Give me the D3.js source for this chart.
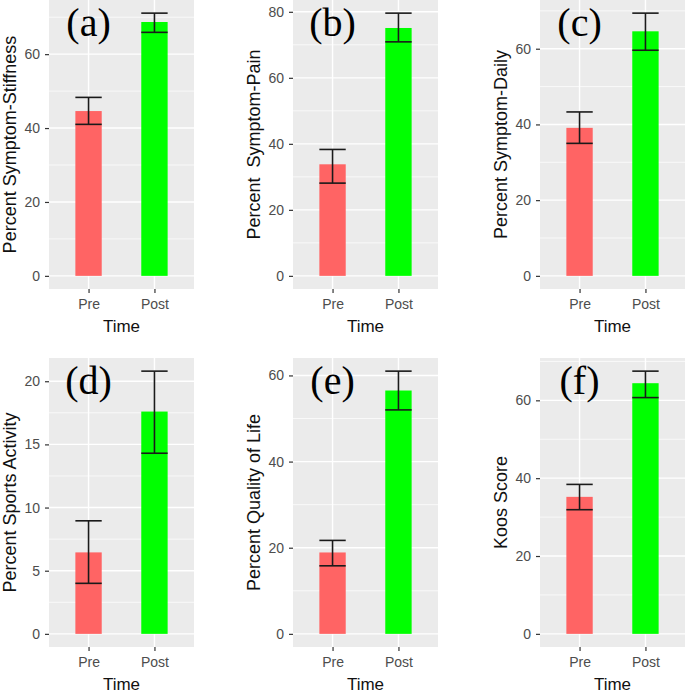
<!DOCTYPE html>
<html>
<head>
<meta charset="utf-8">
<script src="https://cdn.jsdelivr.net/npm/d3@7"></script>
<style>
  body { margin: 0; background: #fff; }
  svg { display: block; }
</style>
</head>
<body>
<div id="chart"></div>
<script>
const width = 685, height = 693;

// data
const panelLabels = ["(a)", "(b)", "(c)", "(d)", "(e)", "(f)"];
const yTitles = ["Percent Symptom-Stiffness", "Percent  Symptom-Pain", "Percent Symptom-Daily",
    "Percent Sports Activity", "Percent Quality of Life", "Koos Score"];
const groups = ["Pre", "Post"];
const preMeans = [44.6, 33.8, 39.1, 6.45, 18.9, 35.2];
const preLow = [41.0, 28.1, 35.0, 4.0, 15.8, 31.9];
const preHigh = [48.3, 38.3, 43.3, 8.95, 21.7, 38.4];
const postMeans = [68.7, 75.1, 64.6, 17.6, 56.5, 64.4];
const postLow = [65.9, 70.9, 59.6, 14.3, 52.0, 60.7];
const postHigh = [71.1, 79.6, 69.4, 20.8, 61.0, 67.5];
const yTicks = [
    [0, 20, 40, 60],
    [0, 20, 40, 60, 80],
    [0, 20, 40, 60],
    [0, 5, 10, 15, 20],
    [0, 20, 40, 60],
    [0, 20, 40, 60]
];

const barColors = { Pre: "#ff6464", Post: "#00ff00" };

// panel layout: plot-area boxes
const colLeft = [49, 293, 540];
const plotW = 145;
const rowTop = [0, 358];
const plotH = 289;

const svg = d3.select("#chart").append("svg")
    .attr("width", width)
    .attr("height", height)
    .style("font-family", "'Liberation Sans', Arial, sans-serif");

panelLabels.forEach(function (lab, i) {
    const col = i % 3, row = Math.floor(i / 3);
    const x0 = colLeft[col], y0 = rowTop[row];

    const rows = groups.map(function (g) {
        return g === "Pre"
            ? { group: g, mean: preMeans[i], lo: preLow[i], hi: preHigh[i] }
            : { group: g, mean: postMeans[i], lo: postLow[i], hi: postHigh[i] };
    });

    const maxV = d3.max(rows, d => d.hi);
    const yScale = d3.scaleLinear()
        .domain([-0.05 * maxV, 1.05 * maxV])
        .range([plotH, 0]);

    // discrete scale with ggplot-style 0.6 expansion
    const step = plotW / 2.2;
    const xScale = d3.scalePoint()
        .domain(groups)
        .range([0.6 * step, plotW - 0.6 * step]);
    const barW = 0.4 * step;

    const g = svg.append("g").attr("transform", "translate(" + x0 + "," + y0 + ")");

    g.append("rect")
        .attr("width", plotW)
        .attr("height", plotH)
        .attr("fill", "#ebebeb");

    // minor gridlines
    const ticks = yTicks[i];
    const tstep = ticks[1] - ticks[0];
    const minor = [];
    for (let v = ticks[0] - tstep / 2; v <= ticks[ticks.length - 1] + tstep; v += tstep) {
        if (v >= yScale.domain()[0] && v <= yScale.domain()[1]) minor.push(v);
    }
    g.selectAll(".minor").data(minor).enter().append("line")
        .attr("x1", 0).attr("x2", plotW)
        .attr("y1", d => yScale(d)).attr("y2", d => yScale(d))
        .attr("stroke", "#fff").attr("stroke-width", 0.7);

    g.selectAll(".major").data(ticks).enter().append("line")
        .attr("x1", 0).attr("x2", plotW)
        .attr("y1", d => yScale(d)).attr("y2", d => yScale(d))
        .attr("stroke", "#fff").attr("stroke-width", 1.4);

    g.selectAll(".vmajor").data(groups).enter().append("line")
        .attr("x1", d => xScale(d)).attr("x2", d => xScale(d))
        .attr("y1", 0).attr("y2", plotH)
        .attr("stroke", "#fff").attr("stroke-width", 1.4);

    // bars
    g.selectAll(".bar").data(rows).enter().append("rect")
        .attr("x", d => xScale(d.group) - barW / 2)
        .attr("y", d => yScale(d.mean))
        .attr("width", barW)
        .attr("height", d => yScale(0) - yScale(d.mean))
        .attr("fill", d => barColors[d.group]);

    // error bars
    const eb = g.selectAll(".err").data(rows).enter().append("g")
        .attr("stroke", "#1a1a1a").attr("stroke-width", 1.6);
    eb.append("line")
        .attr("x1", d => xScale(d.group)).attr("x2", d => xScale(d.group))
        .attr("y1", d => yScale(d.lo)).attr("y2", d => yScale(d.hi));
    eb.append("line")
        .attr("x1", d => xScale(d.group) - barW / 2).attr("x2", d => xScale(d.group) + barW / 2)
        .attr("y1", d => yScale(d.hi)).attr("y2", d => yScale(d.hi));
    eb.append("line")
        .attr("x1", d => xScale(d.group) - barW / 2).attr("x2", d => xScale(d.group) + barW / 2)
        .attr("y1", d => yScale(d.lo)).attr("y2", d => yScale(d.lo));

    // axes
    const yAxis = d3.axisLeft(yScale).tickValues(ticks).tickSize(4).tickPadding(5);
    const ya = g.append("g").call(yAxis);
    ya.select(".domain").remove();
    ya.selectAll(".tick line").attr("stroke", "#333").attr("stroke-width", 1.2);
    ya.selectAll(".tick text").attr("fill", "#4d4d4d").style("font-size", "14px");

    const xAxis = d3.axisBottom(xScale).tickSize(4).tickPadding(6);
    const xa = g.append("g").attr("transform", "translate(0," + plotH + ")").call(xAxis);
    xa.select(".domain").remove();
    xa.selectAll(".tick line").attr("stroke", "#333").attr("stroke-width", 1.2);
    xa.selectAll(".tick text").attr("fill", "#4d4d4d").style("font-size", "14px");

    // axis titles
    g.append("text")
        .attr("x", plotW / 2)
        .attr("y", plotH + 43)
        .attr("text-anchor", "middle")
        .style("font-size", "17px")
        .attr("fill", "#111")
        .text("Time");

    g.append("text")
        .attr("transform", "translate(-33," + (plotH / 2) + ") rotate(-90)")
        .attr("text-anchor", "middle")
        .attr("xml:space", "preserve")
        .style("font-size", "18px")
        .attr("fill", "#111")
        .text(yTitles[i]);

    // panel tag
    g.append("text")
        .attr("x", xScale("Pre"))
        .attr("y", 36)
        .attr("text-anchor", "middle")
        .style("font-family", "'Liberation Serif', 'Times New Roman', serif")
        .style("font-size", "40px")
        .attr("fill", "#000")
        .text(lab);
});
</script>
</body>
</html>
